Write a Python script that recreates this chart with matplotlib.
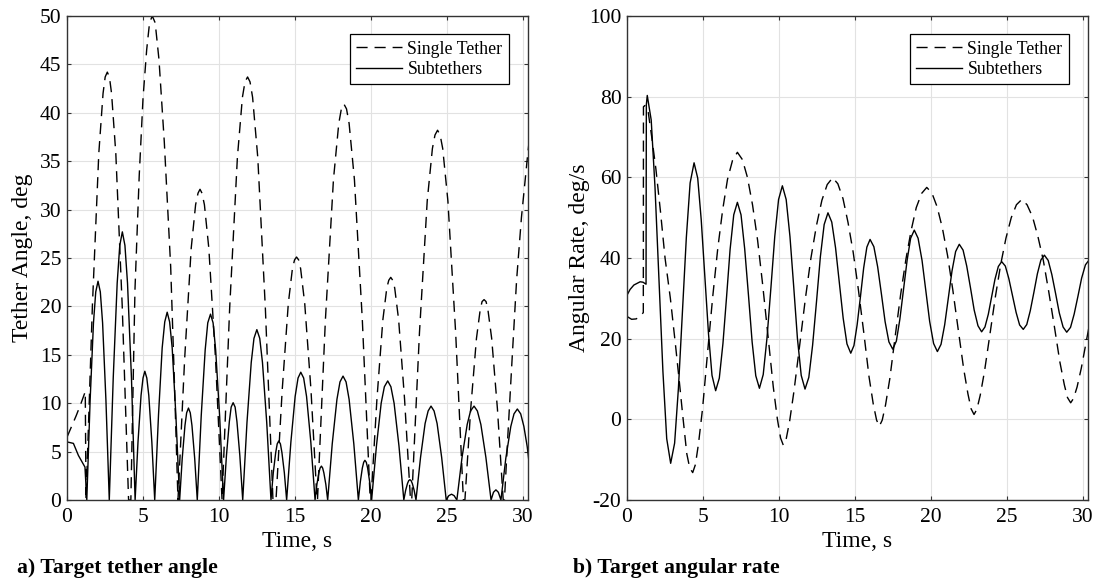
import matplotlib
matplotlib.use("Agg")
import matplotlib.pyplot as plt

# values (time in s)
angle_t_single = [0, 0.3, 0.6, 0.9, 1.2, 1.25,
                  1.67, 2.09, 2.37, 2.51, 2.65, 2.79, 2.93, 3.21, 3.63, 4.05,
                  4.2, 4.47, 4.75, 5.0, 5.24, 5.43, 5.61, 5.8, 6.05, 6.4, 6.82, 7.05, 7.3,
                  7.74, 8.17, 8.46, 8.62, 8.75, 8.88, 9.04, 9.33, 9.77, 10.2,
                  10.7, 11.21, 11.54, 11.71, 11.88, 12.04, 12.21, 12.55, 13.05, 13.55,
                  13.75, 14.16, 14.56, 14.83, 14.97, 15.1, 15.24, 15.37, 15.64, 16.05, 16.45,
                  16.48, 17.0, 17.53, 17.88, 18.05, 18.22, 18.39, 18.56, 18.91, 19.43, 19.95,
                  20.0, 20.39, 20.78, 21.04, 21.17, 21.3, 21.43, 21.56, 21.82, 22.21, 22.6,
                  22.68, 23.19, 23.7, 24.04, 24.21, 24.38, 24.55, 24.72, 25.06, 25.57, 26.08,
                  26.18, 26.56, 26.94, 27.19, 27.31, 27.44, 27.57, 27.69, 27.94, 28.32, 28.7,
                  28.78, 29.0, 29.3, 29.58, 29.9, 30.28, 30.4]
angle_single = [6.5, 7.6, 8.7, 9.9, 11.2, 0,
                20.1, 35.8, 42.0, 43.7, 44.2, 43.7, 42.0, 35.8, 20.1, 0,
                0, 21.7, 33.5, 41.5, 46.5, 49.3, 50.0, 49.3, 45.5, 37.0, 24.1, 13.0, 0,
                14.6, 26.0, 30.5, 31.7, 32.1, 31.7, 30.5, 26.0, 14.6, 0,
                19.8, 35.4, 41.6, 43.2, 43.7, 43.2, 41.6, 35.4, 19.8, 0,
                0, 11.4, 20.3, 23.9, 24.8, 25.1, 24.8, 23.9, 20.3, 11.4, 0,
                0, 18.6, 33.1, 38.9, 40.4, 40.9, 40.4, 38.9, 33.1, 18.6, 0,
                0, 10.4, 18.6, 21.9, 22.7, 23.0, 22.7, 21.9, 18.6, 10.4, 0,
                0, 17.3, 30.9, 36.3, 37.7, 38.2, 37.7, 36.3, 30.9, 17.3, 0,
                0, 9.4, 16.7, 19.7, 20.5, 20.7, 20.5, 19.7, 16.7, 9.4, 0,
                0, 6.5, 15.0, 22.7, 29.2, 35.2, 37.0]

angle_t_sub = [0, 0.42, 0.75, 1.0, 1.18, 1.3,
               1.52, 1.74, 1.89, 2.04, 2.19, 2.34, 2.56, 2.78,
               3.04, 3.30, 3.47, 3.64, 3.81, 3.98, 4.24, 4.48,
               4.67, 4.87, 5.00, 5.12, 5.25, 5.38, 5.58, 5.77,
               6.02, 6.26, 6.43, 6.59, 6.75, 6.92, 7.16, 7.41,
               7.58, 7.76, 7.87, 7.99, 8.11, 8.22, 8.40, 8.57,
               8.83, 9.09, 9.26, 9.44, 9.61, 9.78, 10.04, 10.30,
               10.49, 10.68, 10.80, 10.93, 11.06, 11.18, 11.37, 11.56,
               11.84, 12.12, 12.30, 12.49, 12.68, 12.86, 13.14, 13.42,
               13.57, 13.73, 13.83, 13.93, 14.04, 14.14, 14.30, 14.45,
               14.73, 15.01, 15.20, 15.38, 15.57, 15.76, 16.04, 16.32,
               16.44, 16.57, 16.65, 16.74, 16.82, 16.90, 17.03, 17.15,
               17.45, 17.76, 17.96, 18.16, 18.36, 18.56, 18.87, 19.17,
               19.30, 19.43, 19.52, 19.60, 19.69, 19.78, 19.91, 20.04,
               20.36, 20.67, 20.88, 21.10, 21.31, 21.52, 21.84, 22.16,
               22.28, 22.40, 22.48, 22.56, 22.64, 22.72, 22.84, 22.96,
               23.26, 23.56, 23.76, 23.95, 24.15, 24.35, 24.65, 24.95,
               25.12, 25.30, 25.47, 25.65,
               25.99, 26.33, 26.55, 26.78, 27.00, 27.23, 27.56, 27.90,
               28.06, 28.22, 28.38, 28.55,
               28.87, 29.20, 29.41, 29.63, 29.85, 30.06, 30.28, 30.40]
angle_sub = [6.0, 5.85, 4.6, 3.9, 3.4, 0,
             10.3, 18.3, 21.5, 22.6, 21.5, 18.3, 10.3, 0,
             12.6, 22.4, 26.3, 27.7, 26.3, 22.4, 12.6, 0,
             6.0, 10.8, 12.6, 13.3, 12.6, 10.8, 6.0, 0,
             8.8, 15.7, 18.4, 19.4, 18.4, 15.7, 8.8, 0,
             4.3, 7.7, 9.0, 9.5, 9.0, 7.7, 4.3, 0,
             8.7, 15.5, 18.3, 19.2, 18.3, 15.5, 8.7, 0,
             4.6, 8.1, 9.6, 10.05, 9.6, 8.1, 4.6, 0,
             8.0, 14.2, 16.7, 17.6, 16.7, 14.2, 8.0, 0,
             2.8, 4.9, 5.8, 6.1, 5.8, 4.9, 2.8, 0,
             6.0, 10.7, 12.6, 13.2, 12.6, 10.7, 6.0, 0,
             1.6, 2.8, 3.3, 3.5, 3.3, 2.8, 1.6, 0,
             5.8, 10.4, 12.2, 12.8, 12.2, 10.4, 5.8, 0,
             1.9, 3.3, 3.9, 4.1, 3.9, 3.3, 1.9, 0,
             5.6, 10.0, 11.7, 12.3, 11.7, 10.0, 5.6, 0,
             1.0, 1.7, 2.0, 2.1, 2.0, 1.7, 1.0, 0,
             4.4, 7.9, 9.2, 9.7, 9.2, 7.9, 4.4, 0,
             0.45, 0.6, 0.45, 0,
             4.4, 7.8, 9.2, 9.7, 9.2, 7.8, 4.4, 0,
             0.8, 1.05, 0.8, 0,
             4.3, 7.6, 8.9, 9.4, 8.9, 7.6, 5.5, 3.9]

rate_t_single = [0, 0.3, 0.6, 0.9, 1.07, 1.08, 1.18,
                 1.4, 1.62, 1.9, 2.2, 2.5, 2.85, 3.2, 3.45, 3.65, 3.93, 4.12, 4.32,
                 4.50, 4.70, 4.97, 5.29, 5.64, 5.97, 6.29, 6.61, 6.94, 7.26,
                 7.59, 7.92, 8.26, 8.59, 8.92, 9.28, 9.62, 9.89, 10.10, 10.28,
                 10.48, 10.70, 10.98, 11.35, 11.74, 12.10, 12.46, 12.82, 13.17, 13.53,
                 13.87, 14.21, 14.54, 14.88, 15.22, 15.59, 15.92, 16.20, 16.42, 16.60,
                 16.79, 17.01, 17.29, 17.63, 18.00, 18.35, 18.69, 19.03, 19.38, 19.72,
                 20.06, 20.40, 20.75, 21.09, 21.43, 21.80, 22.15, 22.43, 22.64, 22.83,
                 23.02, 23.24, 23.52, 23.87, 24.24, 24.59, 24.93, 25.28, 25.62, 25.97,
                 26.32, 26.68, 27.03, 27.39, 27.74, 28.13, 28.48, 28.77, 28.98, 29.19,
                 29.38, 29.61, 29.89, 30.25, 30.40]
rate_single = [25.5, 24.8, 24.9, 25.6, 26.5, 77.5, 77.8,
               76.0, 70.1, 62.0, 51.5, 40.0, 30.0, 18.0, 9.0, 1.5, -8.5, -12.0, -13.2,
               -11.2, -6.05, 2.7, 16.2, 30.5, 42.4, 51.9, 59.5, 64.2, 66.2,
               64.4, 60.0, 53.1, 44.4, 33.5, 20.5, 8.1, 0.1, -4.6, -6.4,
               -4.7, -0.4, 6.9, 18.1, 30.1, 40.0, 48.0, 54.3, 58.2, 59.9,
               58.4, 54.7, 48.8, 41.4, 32.2, 21.1, 10.6, 3.8, -0.2, -1.7,
               -0.2, 3.6, 10.1, 20.2, 30.9, 39.7, 46.8, 52.5, 56.0, 57.5,
               56.1, 52.7, 47.4, 40.6, 32.2, 22.0, 12.5, 6.3, 2.6, 1.2,
               2.5, 6.0, 11.9, 20.9, 30.5, 38.5, 44.9, 50.0, 53.2, 54.5,
               53.2, 50.2, 45.4, 39.4, 31.8, 22.7, 14.2, 8.6, 5.4, 4.1,
               5.2, 8.0, 12.7, 20.0, 23.0]

rate_t_sub = [0, 0.2, 0.45, 0.86, 1.05, 1.25, 1.27, 1.33,
              1.59, 1.84, 2.10, 2.36, 2.61, 2.87,
              3.13, 3.38, 3.64, 3.90, 4.15, 4.41,
              4.65, 4.88, 5.12, 5.36, 5.59, 5.83,
              6.07, 6.31, 6.55, 6.78, 7.02, 7.26,
              7.50, 7.74, 7.99, 8.23, 8.47, 8.71,
              8.96, 9.21, 9.47, 9.72, 9.97, 10.22,
              10.47, 10.72, 10.97, 11.21, 11.46, 11.71,
              11.96, 12.21, 12.47, 12.72, 12.97, 13.22,
              13.47, 13.72, 13.97, 14.22, 14.47, 14.72,
              14.93, 15.14, 15.36, 15.57, 15.78, 15.99,
              16.24, 16.49, 16.74, 16.98, 17.23, 17.48,
              17.72, 17.95, 18.19, 18.43, 18.66, 18.90,
              19.15, 19.41, 19.66, 19.91, 20.17, 20.42,
              20.66, 20.90, 21.14, 21.38, 21.62, 21.86,
              22.11, 22.35, 22.60, 22.84, 23.09, 23.33,
              23.55, 23.77, 23.99, 24.21, 24.43, 24.65,
              24.89, 25.12, 25.36, 25.60, 25.83, 26.07,
              26.30, 26.53, 26.77, 27.00, 27.23, 27.46,
              27.71, 27.95, 28.20, 28.44, 28.69, 28.93,
              29.18, 29.42, 29.67, 29.91, 30.16, 30.40]
rate_sub = [30.8, 32.2, 33.3, 34.1, 34.0, 33.5, 78.0, 80.3,
            74.2, 57.5, 34.7, 11.9, -4.8, -10.9,
            -5.9, 7.7, 26.35, 45.0, 58.6, 63.6,
            59.8, 49.5, 35.35, 21.2, 10.9, 7.1,
            10.2, 18.8, 30.45, 42.1, 50.7, 53.8,
            50.7, 42.3, 30.75, 19.2, 10.8, 7.7,
            11.1, 20.25, 32.8, 45.35, 54.5, 57.9,
            54.5, 45.3, 32.7, 20.1, 10.9, 7.5,
            10.4, 18.4, 29.35, 40.3, 48.3, 51.2,
            48.9, 42.5, 33.8, 25.1, 18.7, 16.4,
            18.3, 23.45, 30.5, 37.55, 42.7, 44.6,
            42.8, 37.8, 31.0, 24.2, 19.2, 17.4,
            19.4, 24.8, 32.15, 39.5, 44.9, 46.9,
            44.9, 39.4, 31.85, 24.3, 18.8, 16.8,
            18.6, 23.45, 30.1, 36.75, 41.6, 43.4,
            41.95, 38.0, 32.55, 27.1, 23.2, 21.7,
            22.9, 26.05, 30.4, 34.75, 37.9, 39.1,
            38.0, 34.9, 30.7, 26.5, 23.4, 22.3,
            23.5, 26.9, 31.5, 36.1, 39.5, 40.7,
            39.4, 35.9, 31.15, 26.4, 22.9, 21.6,
            22.8, 26.1, 30.55, 35.0, 38.3, 39.5]

labels = ['Single Tether', 'Subtethers']
dash = (0, (8, 5))

plt.rcParams['font.family'] = ['Liberation Serif', 'DejaVu Serif']
plt.rcParams['axes.unicode_minus'] = False


def style_axes(ax, yticks, ylim, ylabel, label_x):
    ax.set_xlim(0, 30.33)
    ax.set_ylim(*ylim)
    ax.set_xticks(range(0, 31, 5))
    ax.set_yticks(yticks)
    ax.grid(True, color='#e2e2e2', lw=0.8)
    ax.set_axisbelow(True)
    ax.tick_params(direction='in', length=3, width=0.8, top=True, right=True,
                   labelsize=15.5, color='#333333')
    ax.tick_params(axis='x', pad=6)
    ax.tick_params(axis='y', pad=4)
    for s in ax.spines.values():
        s.set_color('#333333')
        s.set_linewidth(1.0)
    ax.set_xlabel('Time, s', fontsize=17)
    ax.set_ylabel(ylabel, fontsize=17)
    ax.xaxis.set_label_coords(0.5, -0.064)
    ax.yaxis.set_label_coords(label_x, 0.5)
    leg = ax.legend(loc='upper right', bbox_to_anchor=(0.958, 0.962), fontsize=12.8,
                    fancybox=False, framealpha=1, borderaxespad=0, borderpad=0.35,
                    labelspacing=0.2, handlelength=2.6, handletextpad=0.3)
    leg.get_frame().set_edgecolor('black')
    leg.get_frame().set_linewidth(0.9)


fig = plt.figure(figsize=(10.97, 5.81), dpi=100)
ax1 = fig.add_axes([0.0611, 0.1394, 0.4202, 0.8331])
ax2 = fig.add_axes([0.5716, 0.1394, 0.4202, 0.8331])

ax1.plot(angle_t_single, angle_single, color='black', lw=1.0, ls=dash, label=labels[0])
ax1.plot(angle_t_sub, angle_sub, color='black', lw=1.0, label=labels[1])
style_axes(ax1, range(0, 51, 5), (0, 50), 'Tether Angle, deg', -0.074)

ax2.plot(rate_t_single, rate_single, color='black', lw=1.0, ls=dash, label=labels[0])
ax2.plot(rate_t_sub, rate_sub, color='black', lw=1.0, label=labels[1])
style_axes(ax2, range(-20, 101, 20), (-20, 100), 'Angular Rate, deg/s', -0.080)

fig.text(0.0158, 0.013, 'a) Target tether angle', fontsize=15.7, fontweight='bold')
fig.text(0.522, 0.013, 'b) Target angular rate', fontsize=15.7, fontweight='bold')

fig.savefig('out.png', dpi=100)
